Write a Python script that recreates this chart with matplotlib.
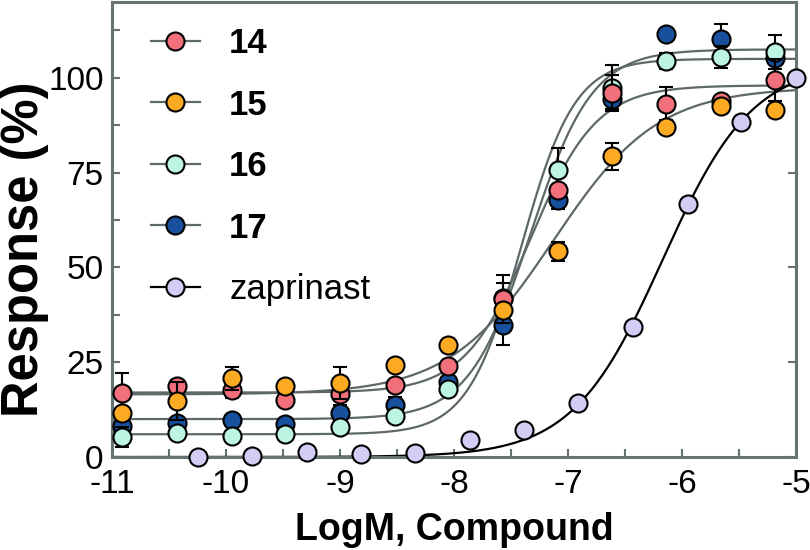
import numpy as np
import matplotlib
matplotlib.use("Agg")
import matplotlib.pyplot as plt
from matplotlib.lines import Line2D
from matplotlib.ticker import MultipleLocator

plt.rcParams['font.family'] = ['Liberation Sans', 'DejaVu Sans']
plt.rcParams['axes.unicode_minus'] = False

# ---------------- data ----------------
x_cmp = [-10.91, -10.43, -9.95, -9.48, -9.00, -8.52, -8.05, -7.57, -7.09, -6.61, -6.14, -5.66, -5.18]
x_zap = [-10.25, -9.77, -9.29, -8.82, -8.34, -7.86, -7.39, -6.91, -6.43, -5.95, -5.48, -5.00]

y14 = [16.8, 18.7, 17.6, 15.0, 16.6, 18.9, 24.0, 41.6, 70.3, 96.1, 93.2, 93.8, 99.4]
e14 = [5.3, 1.5, 2.1, 0.5, 1.5, 1.0, 1.0, 6.3, 1.0, 4.7, 4.4, 1.5, 5.5]
y15 = [11.6, 14.7, 20.8, 18.7, 19.5, 24.2, 29.6, 38.7, 54.2, 79.3, 87.1, 92.6, 91.4]
e15 = [0.5, 5.0, 3.0, 0.5, 4.2, 0.5, 0.5, 1.0, 2.6, 3.6, 0.5, 1.0, 0.5]
y16 = [5.2, 6.3, 5.5, 6.1, 7.9, 10.8, 18.0, 41.8, 75.8, 97.3, 104.5, 105.5, 106.8]
e16 = [2.6, 0.5, 0.5, 0.5, 1.0, 0.5, 0.5, 4.0, 5.8, 6.0, 2.1, 3.0, 4.6]
y17 = [8.2, 8.9, 9.7, 8.7, 11.6, 13.7, 19.8, 34.7, 67.9, 94.4, 111.6, 110.2, 105.2]
e17 = [1.5, 1.5, 0.5, 1.0, 2.0, 2.1, 1.0, 5.2, 2.6, 2.5, 0.5, 4.0, 1.0]
y_zap = [0.0, 0.3, 1.3, 0.8, 1.0, 4.5, 7.1, 14.2, 34.3, 66.8, 88.4, 100.0]

# fitted 4-parameter logistic curves: bottom, top, logEC50, hill
fit14 = [17.0, 98.0, -7.33, 1.5]
fit15 = [16.5, 97.5, -7.13, 0.95]
fit16 = [6.0, 105.0, -7.41, 1.85]
fit17 = [10.0, 107.5, -7.33, 1.6]
fit_zap = [0.0, 104.0, -6.17, 1.1]

labels = ["14", "15", "16", "17", "zaprinast"]
colors = ["#F2707C", "#FBAA22", "#BDF5E3", "#17509C", "#D2CDF4"]

# ---------------- figure ----------------
fig = plt.figure(figsize=(8.1, 5.5), dpi=100)
ax = fig.add_axes([0.1383, 0.1691, 0.8444, 0.8273])

grey = "#5E6868"
spine_col = "#667373"

def fourpl(x, p):
    b, t, e, h = p
    return b + (t - b) / (1.0 + 10 ** ((e - x) * h))

xs = np.linspace(-11, -5, 400)

series = [
    (x_cmp, y14, e14, fit14, colors[0], 6),
    (x_cmp, y15, e15, fit15, colors[1], 7),
    (x_cmp, y16, e16, fit16, colors[2], 5),
    (x_cmp, y17, e17, fit17, colors[3], 4),
]

for xv, yv, ev, fp, c, z in series:
    ax.plot(xs, fourpl(xs, fp), color=grey, lw=1.6, zorder=2, solid_capstyle='butt')
for xv, yv, ev, fp, c, z in series:
    ax.errorbar(xv, yv, yerr=ev, fmt='none', ecolor='black', elinewidth=1.5,
                capsize=5, capthick=1.5, zorder=z - 0.5, clip_on=False)
    ax.plot(xv, yv, 'o', ms=13, mfc=c, mec='black', mew=1.5, zorder=z, clip_on=False)

ax.plot(xs, fourpl(xs, fit_zap), color='black', lw=1.6, zorder=2)
ax.plot(x_zap, y_zap, 'o', ms=13, mfc=colors[4], mec='black', mew=1.5, zorder=3, clip_on=False)

ax.set_xlim(-11, -5)
ax.set_ylim(0, 120)

for s in ax.spines.values():
    s.set_color(spine_col)
    s.set_linewidth(2.2)

ax.xaxis.set_major_locator(MultipleLocator(1))
ax.xaxis.set_minor_locator(MultipleLocator(0.5))
ax.set_yticks([0, 25, 50, 75, 100])
ax.yaxis.set_minor_locator(MultipleLocator(12.5))
ax.tick_params(axis='both', which='both', direction='in', color=spine_col, width=1.5, length=6)
ax.tick_params(axis='y', which='major', right=True)
ax.tick_params(axis='y', which='minor', right=False)
ax.tick_params(axis='x', which='major', labelsize=24, pad=9)
ax.tick_params(axis='y', which='major', labelsize=24, pad=6)

ax.set_xlabel("LogM, Compound", fontsize=27, fontweight='bold', labelpad=8)
ax.set_ylabel("Response (%)", fontsize=36.5, fontweight='bold', va='center')
ax.yaxis.set_label_coords(-0.128, 0.457)

handles = []
for i, lab in enumerate(labels):
    lc = 'black' if lab == 'zaprinast' else grey
    handles.append(Line2D([], [], color=lc, lw=1.6, marker='o', ms=13, mfc=colors[i],
                          mec='black', mew=1.5))
leg = ax.legend(handles, labels, loc='upper left', bbox_to_anchor=(0.047, 0.96),
                frameon=False, fontsize=25, handlelength=1.4, handletextpad=0.85,
                labelspacing=0.82, borderpad=0.2, borderaxespad=0)
for t in leg.get_texts()[:4]:
    t.set_fontweight('bold')

fig.savefig("out.png", dpi=100)
